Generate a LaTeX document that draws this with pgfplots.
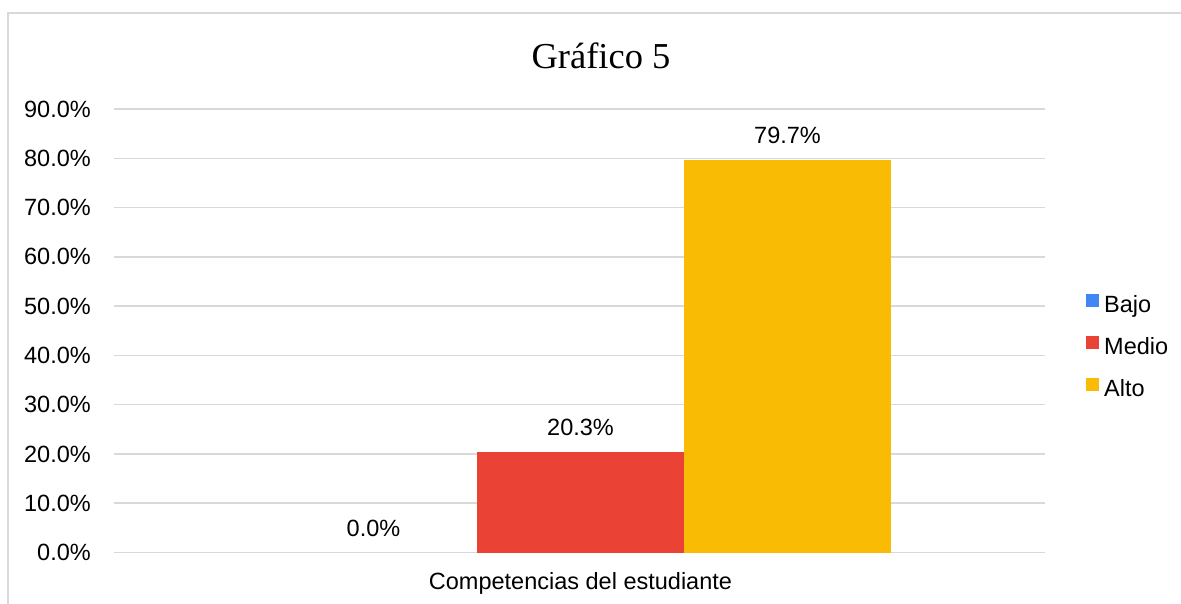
\documentclass[border=0pt]{standalone}
\usepackage{pgfplots}
\pgfplotsset{compat=1.18}
\usepackage{fontspec}
\setmainfont{Liberation Sans}
\newfontfamily\titlefont{Liberation Serif}
\definecolor{cBajo}{HTML}{4285F4}
\definecolor{cMedio}{HTML}{EA4335}
\definecolor{cAlto}{HTML}{FABB05}
\definecolor{gridgray}{HTML}{D9D9D9}
\newcommand{\lblfont}{\fontsize{23.5}{28}\selectfont}
\begin{document}
\begin{tikzpicture}[x=1pt,y=1pt]
\path[use as bounding box] (0,0) rectangle (1181,603);
\draw[color=gridgray, line width=1.5pt] (8,-5) -- (8,590) -- (1190,590);
\node[anchor=base, font=\titlefont\fontsize{36.5}{44}\selectfont] at (601,534) {Gráfico 5};
\begin{axis}[
  at={(114pt,50.5pt)}, anchor=south west, scale only axis,
  width=931pt, height=443.5pt,
  xmin=-466.5, xmax=464.5, ymin=0, ymax=90,
  clip=false,
  /pgf/number format/assume math mode=true,
  axis line style={draw=none},
  major tick length=0pt,
  ymajorgrids, grid style={line width=1.5pt, color=gridgray},
  ytick={0,10,20,30,40,50,60,70,80,90},
  yticklabel={\pgfmathprintnumber[fixed,fixed zerofill,precision=1]{\tick}\%},
  yticklabel style={anchor=east, inner sep=0pt, xshift=-23pt, font=\lblfont},
  xtick={0}, xticklabels={Competencias del estudiante},
  xticklabel style={anchor=base, inner sep=0pt, yshift=-36.5pt, font=\lblfont},
  legend style={at={(1,0.5)}, anchor=west, xshift=41pt, yshift=-16.75pt,
    draw=none, fill=none, inner sep=0pt, row sep=18pt, font=\fontsize{23.5}{28}\selectfont,
    nodes={inner sep=0pt, text height=16pt, text depth=5pt}},
  legend cell align=left,
  legend image code/.code={\fill[#1] (0pt,0.5pt) rectangle (13pt,13.5pt);},
  nodes near coords={\pgfmathprintnumber[fixed,fixed zerofill,precision=1]{\pgfplotspointmeta}\%},
  nodes near coords style={anchor=base, inner sep=0pt, yshift=16.5pt, font=\lblfont, text=black},
]
\addlegendimage{fill=cBajo, draw=none}
\addlegendentry{\hspace{5pt}Bajo}
\addplot[ybar, bar width=207, bar shift=0, fill=none, draw=none, forget plot] coordinates {(-207,0)};
\addplot[ybar, bar width=207, bar shift=0, fill=cMedio, draw=none] coordinates {(0,20.3)};
\addlegendentry{\hspace{5pt}Medio}
\addplot[ybar, bar width=207, bar shift=0, fill=cAlto, draw=none] coordinates {(207,79.7)};
\addlegendentry{\hspace{5pt}Alto}
\end{axis}
\end{tikzpicture}
\end{document}
